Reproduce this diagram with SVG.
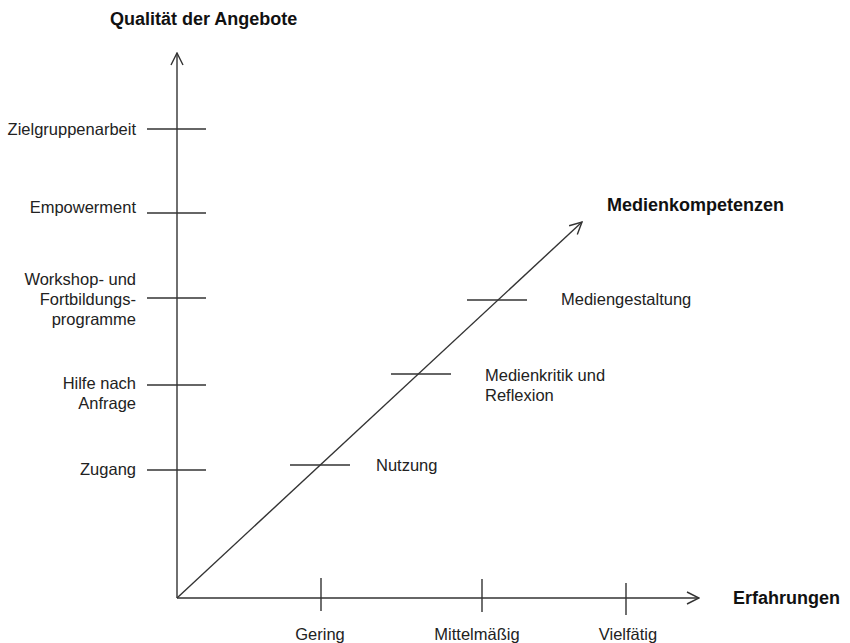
<svg xmlns="http://www.w3.org/2000/svg" width="850" height="643" viewBox="0 0 850 643">
  <style>
    .ax { stroke: #333; stroke-width: 1.4; fill: none; }
    .tk { stroke: #333; stroke-width: 1.4; fill: none; }
    .lb { font-family: "Liberation Sans", Arial, sans-serif; font-size: 16.5px; fill: #222; }
    .tt { font-family: "Liberation Sans", Arial, sans-serif; font-size: 18px; font-weight: bold; fill: #111; }
    .r { text-anchor: end; }
    .m { text-anchor: middle; }
  </style>
  <defs>
    <marker id="arr" viewBox="0 0 14 14" refX="13" refY="7" markerWidth="14" markerHeight="14" markerUnits="userSpaceOnUse" orient="auto">
      <path d="M1,1 L13,7 L1,13" fill="none" stroke="#333" stroke-width="1.4"/>
    </marker>
  </defs>
  <rect width="850" height="643" fill="#fff"/>

  <g id="connectors">
    <line class="ax" x1="177" y1="598" x2="177" y2="53" marker-end="url(#arr)"/>
    <line class="ax" x1="177" y1="598" x2="699" y2="598" marker-end="url(#arr)"/>
    <line class="ax" x1="177" y1="598" x2="582" y2="222" marker-end="url(#arr)"/>
  </g>

  <g id="ticks">
    <line class="tk" x1="147" y1="129" x2="206" y2="129"/>
    <line class="tk" x1="147" y1="213" x2="206" y2="213"/>
    <line class="tk" x1="147" y1="298" x2="206" y2="298"/>
    <line class="tk" x1="147" y1="385" x2="206" y2="385"/>
    <line class="tk" x1="147" y1="470" x2="206" y2="470"/>
    <line class="tk" x1="321" y1="578" x2="321" y2="611"/>
    <line class="tk" x1="482" y1="579" x2="482" y2="612"/>
    <line class="tk" x1="626" y1="583" x2="626" y2="615"/>
    <line class="tk" x1="290" y1="465" x2="350" y2="465"/>
    <line class="tk" x1="391" y1="374" x2="451" y2="374"/>
    <line class="tk" x1="467" y1="300" x2="527" y2="300"/>
  </g>

  <g id="title-y"><text class="tt" x="110" y="25">Qualität der Angebote</text></g>
  <g id="title-x"><text class="tt" x="733" y="604">Erfahrungen</text></g>
  <g id="title-d"><text class="tt" x="607" y="211">Medienkompetenzen</text></g>

  <g id="zielgruppenarbeit"><text class="lb r" x="136" y="135">Zielgruppenarbeit</text></g>
  <g id="empowerment"><text class="lb r" x="136" y="213">Empowerment</text></g>
  <g id="workshop">
    <text class="lb r" x="136" y="285">Workshop- und</text>
    <text class="lb r" x="136" y="305">Fortbildungs-</text>
    <text class="lb r" x="136" y="325">programme</text>
  </g>
  <g id="hilfe">
    <text class="lb r" x="136" y="389">Hilfe nach</text>
    <text class="lb r" x="136" y="409">Anfrage</text>
  </g>
  <g id="zugang"><text class="lb r" x="136" y="475">Zugang</text></g>

  <g id="gering"><text class="lb m" x="320" y="640">Gering</text></g>
  <g id="mittelmaessig"><text class="lb m" x="477" y="640">Mittelmäßig</text></g>
  <g id="vielfaetig"><text class="lb m" x="628" y="640">Vielfätig</text></g>

  <g id="nutzung"><text class="lb" x="376" y="471">Nutzung</text></g>
  <g id="medienkritik">
    <text class="lb" x="485" y="381">Medienkritik und</text>
    <text class="lb" x="485" y="401">Reflexion</text>
  </g>
  <g id="mediengestaltung"><text class="lb" x="561" y="305">Mediengestaltung</text></g>
</svg>
